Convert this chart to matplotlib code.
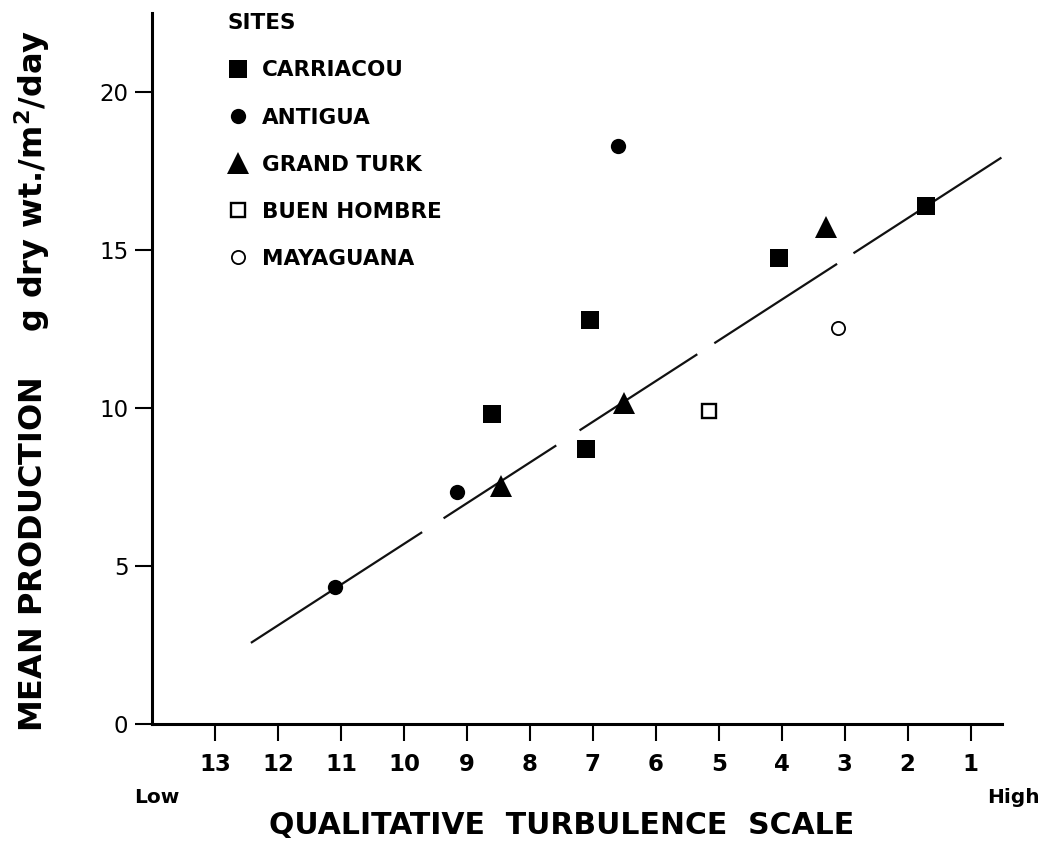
import matplotlib
matplotlib.use('Agg')
import matplotlib.pyplot as plt

plt.rcParams['font.family'] = ['DejaVu Sans']

# turbulence scale (x) vs mean production (y) for each site
carriacou_x = [8.6, 7.1, 7.05, 4.05, 1.7]
carriacou_y = [9.8, 8.7, 12.8, 14.75, 16.4]
antigua_x = [11.1, 9.15, 6.6]
antigua_y = [4.35, 7.35, 18.3]
grand_turk_x = [8.45, 6.5, 3.3]
grand_turk_y = [7.55, 10.15, 15.75]
buen_hombre_x = [5.15]
buen_hombre_y = [9.9]
mayaguana_x = [3.1]
mayaguana_y = [12.55]

# fitted line y = a + b*x, drawn as pieces (start, end pairs along x)
fit_a = 18.59
fit_b = -1.289
fit_x = [12.43, 9.71, 9.37, 7.58, 7.21, 5.34, 5.07, 3.12, 2.86, 0.51]

xticks = list(range(13, 0, -1))
yticks = [0, 5, 10, 15, 20]

fig = plt.figure(figsize=(10.45, 8.44), dpi=100)
ax = fig.add_axes([0.1455, 0.1422, 0.8134, 0.842])

for x0, x1 in zip(fit_x[0::2], fit_x[1::2]):
    ax.plot([x0, x1], [fit_a + fit_b * x0, fit_a + fit_b * x1],
            color='#111111', lw=1.6, solid_capstyle='butt')

ax.plot(carriacou_x, carriacou_y, 's', ms=12.5, color='black', mew=0,
        label='CARRIACOU')
ax.plot(antigua_x, antigua_y, 'o', ms=11, color='black', mew=0,
        label='ANTIGUA')
ax.plot(grand_turk_x, grand_turk_y, '^', ms=16, color='black', mew=0,
        label='GRAND TURK')
ax.plot(buen_hombre_x, buen_hombre_y, 's', ms=9.6, mfc='white',
        mec='black', mew=1.7, label='BUEN HOMBRE')
ax.plot(mayaguana_x, mayaguana_y, 'o', ms=9.5, mfc='white',
        mec='black', mew=1.3, label='MAYAGUANA')

ax.set_xlim(14, 0.5)
ax.set_ylim(0, 22.5)
for side in ['top', 'right']:
    ax.spines[side].set_visible(False)
for side in ['left', 'bottom']:
    ax.spines[side].set_linewidth(2.2)

ax.set_xticks(xticks)
ax.set_yticks(yticks)
ax.tick_params(axis='both', direction='out', length=12, width=1.5)
ax.tick_params(axis='x', labelsize=16.5, pad=9)
ax.tick_params(axis='y', labelsize=16.5, pad=5)
for lbl in ax.get_xticklabels():
    lbl.set_fontweight('bold')

ax.set_xlabel('QUALITATIVE  TURBULENCE  SCALE', fontsize=21.5,
              fontweight='bold')
ax.xaxis.set_label_coords(0.482, -0.123)
ax.set_ylabel('MEAN PRODUCTION    g dry wt./m$^{\\mathbf{2}}$/day',
              fontsize=23, fontweight='bold')
ax.yaxis.set_label_coords(-0.118, 0.483)

fig.text(0.128, 0.0486, 'Low', fontsize=14.5, fontweight='bold',
         va='baseline')
fig.text(0.9445, 0.0486, 'High', fontsize=14.5, fontweight='bold',
         va='baseline')

ax.legend(title='SITES', loc='upper left', bbox_to_anchor=(0.0885, 1.0),
          frameon=False, alignment='left',
          prop={'size': 15.5, 'weight': 'bold'},
          title_fontproperties={'size': 15.5, 'weight': 'bold'},
          handlelength=1.0, handletextpad=0.6, labelspacing=1.26,
          borderpad=0, borderaxespad=0, numpoints=1)

plt.savefig('out.png', dpi=100)
